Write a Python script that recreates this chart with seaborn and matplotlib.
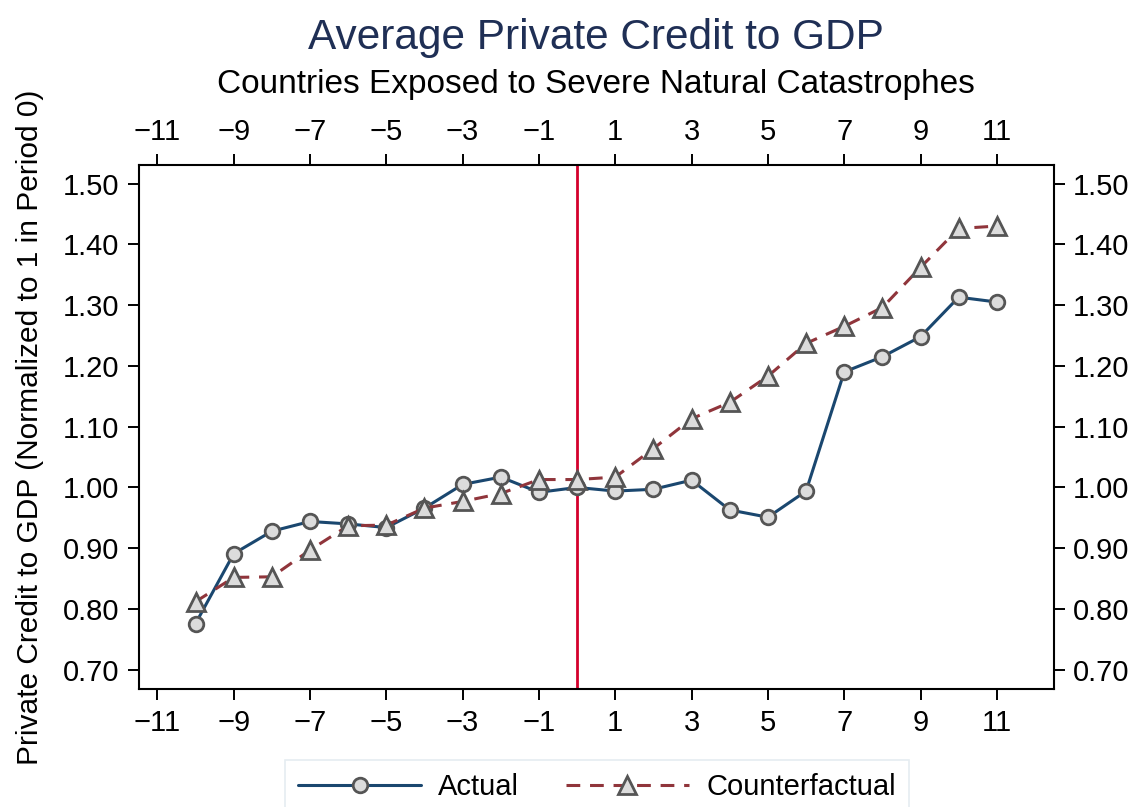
import numpy as np
import pandas as pd
import matplotlib
matplotlib.use("Agg")
import matplotlib.pyplot as plt
import seaborn as sns

# --- DATA ---
periods = list(range(-10, 12))
actual = [0.776, 0.891, 0.928, 0.944, 0.940, 0.934, 0.966, 1.005, 1.017, 0.992,
          1.000, 0.994, 0.997, 1.012, 0.963, 0.951, 0.994, 1.190, 1.215, 1.248,
          1.313, 1.305]
counterfactual = [0.812, 0.852, 0.853, 0.897, 0.937, 0.938, 0.966, 0.977, 0.990, 1.013,
                  1.013, 1.017, 1.064, 1.113, 1.140, 1.183, 1.237, 1.265, 1.296, 1.362,
                  1.426, 1.430]
x_ticks = list(range(-11, 12, 2))
y_ticks = [0.70, 0.80, 0.90, 1.00, 1.10, 1.20, 1.30, 1.40, 1.50]

TITLE = "Average Private Credit to GDP"
SUBTITLE = "Countries Exposed to Severe Natural Catastrophes"
YLABEL = "Private Credit to GDP (Normalized to 1 in Period 0)"

# --- STYLE ---
NAVY = "#1a476f"
MAROON = "#90353b"
EVENT_RED = "#d4002c"
FACE = "#dcdcdc"
EDGE = "#555555"

sns.set_theme(style="white")
plt.rcParams["font.family"] = ["Liberation Sans", "DejaVu Sans"]

df = pd.DataFrame({"period": periods, "Actual": actual, "Counterfactual": counterfactual})

fig = plt.figure(figsize=(11.34, 8.07), dpi=100)
ax = fig.add_axes([0.1223, 0.1459, 0.9292 - 0.1223, 0.7952 - 0.1459])

sns.lineplot(data=df, x="period", y="Actual", ax=ax, color=NAVY, linewidth=2.2,
             marker="o", markersize=10.5, markerfacecolor=FACE, markeredgecolor=EDGE,
             markeredgewidth=2.0, label="Actual", legend=False, zorder=3)
sns.lineplot(data=df, x="period", y="Counterfactual", ax=ax, color=MAROON, linewidth=2.2,
             linestyle=(0, (4.5, 3.2)), marker="^", markersize=12.5, markerfacecolor=FACE,
             markeredgecolor=EDGE, markeredgewidth=2.0, label="Counterfactual",
             legend=False, zorder=3)
handles = ax.lines[:2]

# event line at period 0
ax.axvline(0, color=EVENT_RED, linewidth=2.0, zorder=2)

ax.set_xlim(-11.49, 12.49)
ax.set_ylim(0.668, 1.530)
ax.set_xticks(x_ticks)
ax.set_xticklabels([f"{t}".replace("-", "\u2212") for t in x_ticks])
ax.set_yticks(y_ticks)
ax.set_yticklabels([f"{t:.2f}" for t in y_ticks])
ax.set_xlabel("")
ax.set_ylabel("")

ax.tick_params(axis="both", which="major", direction="out", length=7.9, width=1.4,
               color="black", labelcolor="black", labelsize=21, pad=6,
               top=True, labeltop=True, right=True, labelright=True,
               bottom=True, left=True)
for side in ax.spines.values():
    side.set_visible(True)
    side.set_color("black")
    side.set_linewidth(1.5)
ax.grid(False)

fig.text(596 / 1134, 1 - 49 / 807, TITLE, ha="center", va="baseline",
         fontsize=30.5, color="#1f2f55")
fig.text(596 / 1134, 1 - 93 / 807, SUBTITLE, ha="center", va="baseline",
         fontsize=24, color="black")
fig.text(30 / 1134, 1 - 427 / 807, YLABEL, ha="center", va="center",
         rotation=90, fontsize=21.5, color="black")

leg = fig.legend(handles, ["Actual", "Counterfactual"], loc="upper center",
                 bbox_to_anchor=(597 / 1134, 1 - 760 / 807), ncol=2,
                 fontsize=21, frameon=True, fancybox=False, handlelength=4.2,
                 handletextpad=0.6, columnspacing=1.6, borderpad=0.45,
                 borderaxespad=0)
leg.get_frame().set_edgecolor("#dfe8ee")
leg.get_frame().set_linewidth(1.2)
for txt in leg.get_texts():
    txt.set_color("black")

fig.savefig("out.png", dpi=100)
